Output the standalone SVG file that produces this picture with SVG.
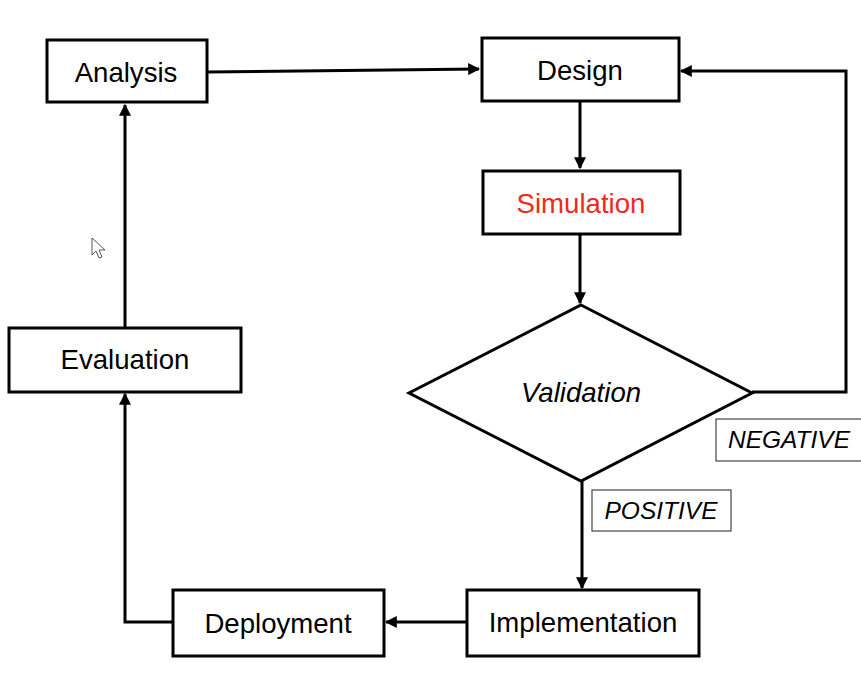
<svg xmlns="http://www.w3.org/2000/svg" width="861" height="684" viewBox="0 0 861 684">
<defs>
<style>
.box{fill:#fff;stroke:#000;stroke-width:3}
.lbl{fill:#fff;stroke:#444;stroke-width:1.2}
.t{font-family:"Liberation Sans",Arial,sans-serif;font-size:27.6px;fill:#000;text-anchor:middle}
.i{font-style:italic}
.c{fill:none;stroke:#000;stroke-width:3}
</style>
<marker id="ah" viewBox="0 0 10 10" refX="9" refY="5" markerWidth="4" markerHeight="4" orient="auto" markerUnits="strokeWidth">
<path d="M0,0 L10,5 L0,10 z" fill="#000"/>
</marker>
</defs>
<rect width="861" height="684" fill="#fff"/>
<g id="connectors">
<path class="c" d="M207,72 L479,69" marker-end="url(#ah)"/>
<path class="c" d="M580,101 L580,168" marker-end="url(#ah)"/>
<path class="c" d="M580,235 L580,303" marker-end="url(#ah)"/>
<path class="c" d="M752,392 L846,392 L846,71 L681,71" marker-end="url(#ah)"/>
<path class="c" d="M582,481 L582,588" marker-end="url(#ah)"/>
<path class="c" d="M467,622 L386,622" marker-end="url(#ah)"/>
<path class="c" d="M172,622 L125,622 L125,394" marker-end="url(#ah)"/>
<path class="c" d="M125,327 L125,105" marker-end="url(#ah)"/>
</g>
<g id="analysis"><rect class="box" x="47" y="40" width="160" height="62"/><text class="t" x="126" y="82">Analysis</text></g>
<g id="design"><rect class="box" x="482" y="38" width="197" height="63"/><text class="t" x="580" y="80">Design</text></g>
<g id="simulation"><rect class="box" x="483" y="171" width="197" height="63"/><text class="t" x="581" y="213" style="fill:#ee2a1c">Simulation</text></g>
<g id="validation"><polygon class="box" points="581,305 752,393 581,481 409,393"/><text class="t i" x="581" y="402">Validation</text></g>
<g id="negative"><rect class="lbl" x="716" y="419" width="150" height="42"/><text class="t i" x="789" y="448" style="font-size:24.5px">NEGATIVE</text></g>
<g id="positive"><rect class="lbl" x="592" y="490" width="139" height="41"/><text class="t i" x="661" y="519" style="font-size:24.5px">POSITIVE</text></g>
<g id="implementation"><rect class="box" x="467" y="590" width="232" height="66"/><text class="t" x="583" y="632">Implementation</text></g>
<g id="deployment"><rect class="box" x="173" y="590" width="211" height="66"/><text class="t" x="278" y="633">Deployment</text></g>
<g id="evaluation"><rect class="box" x="9" y="328" width="232" height="64"/><text class="t" x="125" y="369">Evaluation</text></g>
<path d="M92,238 L92,255 L96,251 L99,258 L102,257 L99,250 L105,250 Z" fill="#fff" stroke="#555" stroke-width="1"/>
</svg>
